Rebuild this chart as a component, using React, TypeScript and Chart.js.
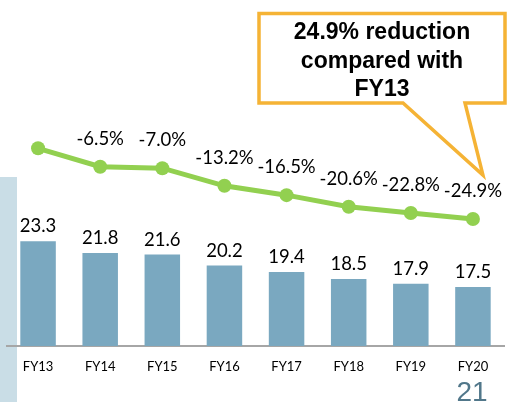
import React, { useEffect, useRef } from "react";
import { Chart, registerables } from "chart.js";

Chart.register(...registerables);

// ---- data ----
const categories = ["FY13", "FY14", "FY15", "FY16", "FY17", "FY18", "FY19", "FY20"];
const barValues = [23.3, 21.8, 21.6, 20.2, 19.4, 18.5, 17.9, 17.5];
const reductionValues = [0, -6.5, -7.0, -13.2, -16.5, -20.6, -22.8, -24.9];
const calloutLines = ["24.9% reduction", "compared with", "FY13"];
const pageNumber = "21";

// ---- styles ----
const BAR_COLOR = "#7aa8c0";
const LINE_COLOR = "#92d050";
const STRIP_COLOR = "#c9dde6";
const CALLOUT_BORDER = "#f5b335";
const LABEL_FONT = "Lato";

const decorPlugin = {
  id: "decor",
  beforeDraw(chart: any) {
    const ctx = chart.ctx;
    ctx.save();
    ctx.fillStyle = STRIP_COLOR;
    ctx.fillRect(0, 177, 17, chart.height - 177);
    ctx.restore();
  },
  afterDatasetsDraw(chart: any) {
    const ctx = chart.ctx;
    ctx.save();
    ctx.fillStyle = "#000";
    ctx.textAlign = "center";
    ctx.textBaseline = "middle";
    ctx.font = `18.5px ${LABEL_FONT}`;
    // bar labels
    const barMeta = chart.getDatasetMeta(1);
    barMeta.data.forEach((el: any, i: number) => {
      ctx.fillText(barValues[i].toFixed(1), el.x, el.y - 15);
    });
    // line labels
    const lineMeta = chart.getDatasetMeta(0);
    lineMeta.data.forEach((el: any, i: number) => {
      const v = reductionValues[i];
      if (v === 0) return;
      ctx.fillText(v.toFixed(1) + "%", el.x, el.y - 28);
    });

    // callout anchored to the last point
    const last = lineMeta.data[lineMeta.data.length - 1];
    const tipX = last.x + 10;
    const tipY = last.y - 44;
    const left = 259, top = 13.5, right = 505, bottom = 103;
    const baseL = 403, baseR = 465;
    ctx.beginPath();
    ctx.moveTo(left, top);
    ctx.lineTo(right, top);
    ctx.lineTo(right, bottom);
    ctx.lineTo(baseR, bottom);
    ctx.lineTo(tipX, tipY);
    ctx.lineTo(baseL, bottom);
    ctx.lineTo(left, bottom);
    ctx.closePath();
    ctx.fillStyle = "#fff";
    ctx.fill();
    ctx.lineWidth = 3.5;
    ctx.lineJoin = "miter";
    ctx.strokeStyle = CALLOUT_BORDER;
    ctx.stroke();

    ctx.fillStyle = "#000";
    ctx.font = `bold 23px "Liberation Sans", Arial, sans-serif`;
    const cx = (left + right) / 2;
    calloutLines.forEach((t, i) => {
      ctx.fillText(t, cx, 33 + i * 28.5);
    });

    // page number
    ctx.font = `28px "Liberation Sans", Arial, sans-serif`;
    ctx.fillStyle = "#51778a";
    ctx.textBaseline = "alphabetic";
    ctx.fillText(pageNumber, 472, 401);
    ctx.restore();
  },
};

export default function App() {
  const ref = useRef<HTMLCanvasElement | null>(null);
  useEffect(() => {
    document.body.style.margin = "0";
    const canvas = ref.current!;
    const chart = new Chart(canvas, {
      type: "bar",
      data: {
        labels: categories,
        datasets: [
          {
            type: "line",
            data: reductionValues,
            yAxisID: "y2",
            borderColor: LINE_COLOR,
            backgroundColor: LINE_COLOR,
            borderWidth: 5,
            pointRadius: 7,
            pointBackgroundColor: LINE_COLOR,
            pointBorderWidth: 0,
            tension: 0,
            order: 0,
          } as any,
          {
            type: "bar",
            data: barValues,
            yAxisID: "y",
            backgroundColor: BAR_COLOR,
            categoryPercentage: 1,
            barPercentage: 36 / 63,
            order: 1,
          } as any,
        ],
      },
      options: {
        responsive: false,
        animation: false,
        layout: { padding: { top: 10, left: 6.5, right: 0.5, bottom: 0 } },
        plugins: { legend: { display: false }, tooltip: { enabled: false } },
        scales: {
          x: {
            offset: true,
            grid: { display: false, drawTicks: false },
            border: { display: true, color: "#a6a6a6", width: 2 },
            ticks: { color: "#000", font: { family: LABEL_FONT, size: 13 }, padding: 13 },
            afterFit: (scale: any) => {
              scale.height = 56;
            },
          },
          y: { display: false, min: 10, max: 10 + 336 / 7.88 },
          y2: { display: false, min: -(346 - 148.3) / 2.84, max: (148.3 - 10) / 2.84 },
        },
      },
      plugins: [decorPlugin],
    });
    return () => chart.destroy();
  }, []);
  return (
    <div style={{ position: "relative", width: 511, height: 402 }}>
      <canvas ref={ref} width={511} height={402} style={{ display: "block", width: 511, height: 402 }} />
    </div>
  );
}
